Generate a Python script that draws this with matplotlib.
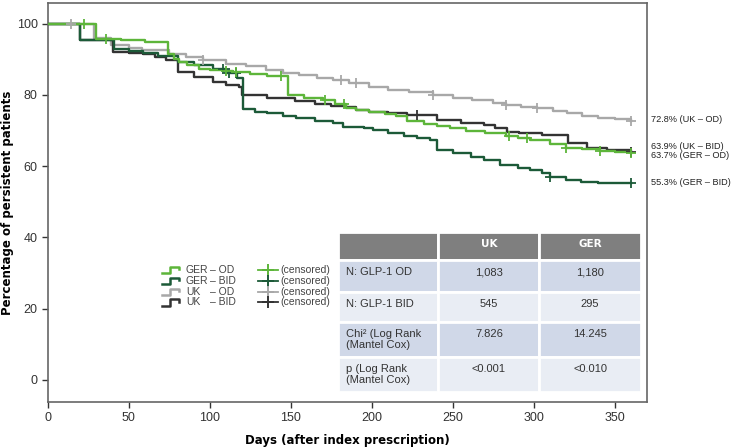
import numpy as np
import matplotlib.pyplot as plt
from matplotlib.patches import Rectangle

# Kaplan-Meier curves (days, % persistent)
ger_od_days = [0, 29.5, 45, 60, 74, 78, 81, 86, 93, 100, 108, 114, 125, 135, 148, 158, 170, 177, 184, 190, 198,
               208, 215, 222, 232, 240, 248, 258, 270, 283, 290, 298, 310, 320, 330, 341, 350, 360]
ger_od_vals = [100, 95.8, 95.3, 94.9, 91.6, 90.2, 89.2, 88.5, 87.4, 87.0, 86.6, 86.3, 85.8, 85.3, 79.9, 79.2, 78.5,
               77.5, 76.3, 75.7, 75.2, 74.5, 74.0, 72.6, 71.8, 71.2, 70.6, 69.9, 69.2, 68.4, 67.9, 67.3, 66.3, 65.2,
               64.7, 64.2, 63.9, 63.7]

ger_bid_days = [0, 19.8, 40.7, 50, 58.6, 68, 80, 90, 101.7, 110, 117, 120.5, 128, 135, 145, 153, 165, 176, 182.5,
                195, 201, 210, 219.6, 228, 236, 240.5, 250, 261, 269, 279, 290, 298, 305, 310, 320, 329, 340, 360]
ger_bid_vals = [100, 95.3, 93.0, 92.3, 91.8, 90.8, 89.2, 88.3, 87.4, 86.2, 84.6, 76.0, 75.3, 74.8, 74.2, 73.4, 72.8,
                72.2, 71.0, 70.6, 70.1, 69.3, 68.4, 67.8, 67.3, 64.5, 63.6, 62.6, 61.7, 60.3, 59.5, 58.9, 58.0, 57.0,
                56.2, 55.6, 55.4, 55.3]

uk_od_days = [0, 28.4, 38.7, 50, 58, 75, 85, 95.6, 110, 122, 134.6, 145, 155, 166, 176, 186, 198.5, 210, 223,
              237.5, 250, 262, 275, 283, 292, 302, 312, 320.5, 330, 340, 350, 360]
uk_od_vals = [100, 96.1, 93.9, 93.2, 92.5, 91.6, 90.6, 89.7, 88.8, 88.0, 86.9, 86.2, 85.5, 84.8, 84.1, 83.3, 82.2,
              81.5, 80.7, 79.9, 79.2, 78.5, 77.8, 77.1, 76.6, 76.2, 75.5, 74.9, 74.1, 73.6, 73.1, 72.8]

uk_bid_days = [0, 19.8, 40, 50, 58.6, 66, 73, 80, 90, 101.7, 110, 118, 120, 135, 152.6, 165, 175, 184, 190, 198.5,
               210, 221.7, 240, 255, 269, 276, 283.5, 291, 305, 321, 333, 345, 360]
uk_bid_vals = [100, 95.3, 92.0, 91.7, 91.4, 90.6, 89.7, 86.4, 85.0, 83.6, 82.8, 82.1, 79.9, 79.2, 78.2, 77.5, 77.0,
               76.6, 75.9, 75.3, 74.8, 74.3, 72.9, 72.2, 71.5, 70.6, 69.6, 69.3, 68.8, 66.5, 65.2, 64.4, 64.0]

# censored observations (days)
ger_od_cens = [22, 36, 110, 116, 144, 171, 183, 285, 296, 320, 341, 360]
ger_bid_cens = [108, 112, 116, 310, 360]
uk_od_cens = [14, 96, 181, 190, 238, 283, 302, 360]
uk_bid_cens = [228, 360]

series_names = ['GER', 'GER', 'UK', 'UK']
series_dose = ['\u2013 OD', '\u2013 BID', '\u2013 OD', '\u2013 BID']
end_labels = ['63.7% (GER \u2013 OD)', '55.3% (GER \u2013 BID)', '72.8% (UK \u2013 OD)', '63.9% (UK \u2013 BID)']

# summary table
table_cols = ['', 'UK', 'GER']
table_rows = ['N: GLP-1 OD', 'N: GLP-1 BID', 'Chi\u00b2 (Log Rank\n(Mantel Cox)', 'p (Log Rank\n(Mantel Cox)']
table_uk = ['1,083', '545', '7.826', '<0.001']
table_ger = ['1,180', '295', '14.245', '<0.010']

colors = ['#5db53a', '#1c5a38', '#a8a8a8', '#333333']

plt.rcParams['font.family'] = ['Liberation Sans', 'DejaVu Sans']

fig = plt.figure(figsize=(7.34, 4.47), dpi=100)
ax = fig.add_axes([0.0654, 0.1013, 0.8161, 0.8913])

curves = [(ger_od_days, ger_od_vals, ger_od_cens),
          (ger_bid_days, ger_bid_vals, ger_bid_cens),
          (uk_od_days, uk_od_vals, uk_od_cens),
          (uk_bid_days, uk_bid_vals, uk_bid_cens)]

# draw UK first so the German curves sit on top, like the original
for i in [2, 3, 1, 0]:
    d, v, c = curves[i]
    d = np.array(d)
    v = np.array(v)
    ax.step(d, v, where='post', color=colors[i], lw=1.7, zorder=3)
    # value of the step function at each censored day
    idx = np.searchsorted(d, c, side='right') - 1
    ax.plot(c, v[idx], ls='none', marker='+', ms=7, mew=1.3, color=colors[i], zorder=4)

ax.set_xlim(0, 370)
ax.set_ylim(-6.1, 105.7)
ax.set_xticks(np.arange(0, 351, 50))
ax.set_yticks(np.arange(0, 101, 20))
ax.tick_params(labelsize=9, colors='#333333', length=4, width=1)
for s in ax.spines.values():
    s.set_color('#666666')
    s.set_linewidth(1.2)

ax.set_xlabel('Days (after index prescription)', fontsize=8.5, fontweight='bold',
              family=['DejaVu Sans'], labelpad=7)
ax.set_ylabel('Percentage of persistent patients', fontsize=8.5, fontweight='bold',
              family=['DejaVu Sans'])
ax.yaxis.set_label_coords(-0.056, 0.5)

# end-of-curve labels (right of axes)
end_offsets = [-0.6, 0, 0.3, 1.5]
for i in range(4):
    yv = curves[i][1][-1] + end_offsets[i]
    ax.text(1.006, yv, end_labels[i], transform=ax.get_yaxis_transform(),
            fontsize=6.6, color='#222222', va='center', ha='left', clip_on=False)

# legend drawn by hand (step icons + censored crosses)
leg_y = [0.3306, 0.3037, 0.2761, 0.2495]
for i in range(4):
    y = leg_y[i]
    ax.plot([0.190, 0.203, 0.203, 0.219, 0.219], [y - 0.008, y - 0.008, y + 0.008, y + 0.008, y + 0.002],
            transform=ax.transAxes, color=colors[i], lw=1.8, clip_on=False)
    ax.text(0.230, y, series_names[i], transform=ax.transAxes, fontsize=7.5, color='#444444', va='center')
    ax.text(0.271, y, series_dose[i], transform=ax.transAxes, fontsize=7.5, color='#444444', va='center')
    ax.plot([0.351, 0.384], [y, y], transform=ax.transAxes, color=colors[i], lw=1.3)
    ax.plot([0.3675], [y], transform=ax.transAxes, marker='+', ms=8, mew=1.4, color=colors[i])
    ax.text(0.388, y, '(censored)', transform=ax.transAxes, fontsize=7.5, color='#444444', va='center')

# table
col_edges = [0.4846, 0.6516, 0.8203, 0.9895]
row_edges = [0.4267, 0.3557, 0.2761, 0.2008, 0.1130, 0.0251]
row_colors = ['#7f7f7f', '#d0d8e8', '#e9edf4', '#d0d8e8', '#e9edf4']
cells = [table_cols] + [[table_rows[k], table_uk[k], table_ger[k]] for k in range(4)]
for r in range(5):
    for c in range(3):
        x0, x1 = col_edges[c], col_edges[c + 1]
        y0, y1 = row_edges[r + 1], row_edges[r]
        ax.add_patch(Rectangle((x0, y0), x1 - x0, y1 - y0, transform=ax.transAxes,
                               facecolor=row_colors[r], edgecolor='white', lw=2, zorder=5))
        txt = cells[r][c]
        if r == 0:
            ax.text((x0 + x1) / 2, (y0 + y1) / 2 + 0.005, txt, transform=ax.transAxes, ha='center',
                    va='center', fontsize=7.5, fontweight='bold', color='white', family=['DejaVu Sans'],
                    zorder=6)
        elif c == 0:
            ax.text(x0 + 0.013, y1 - 0.018, txt, transform=ax.transAxes, ha='left', va='top',
                    fontsize=8, color='#333333', zorder=6, linespacing=1.15)
        else:
            ax.text((x0 + x1) / 2, y1 - 0.018, txt, transform=ax.transAxes, ha='center', va='top',
                    fontsize=8, color='#333333', zorder=6)

fig.savefig('out.png', dpi=100)
